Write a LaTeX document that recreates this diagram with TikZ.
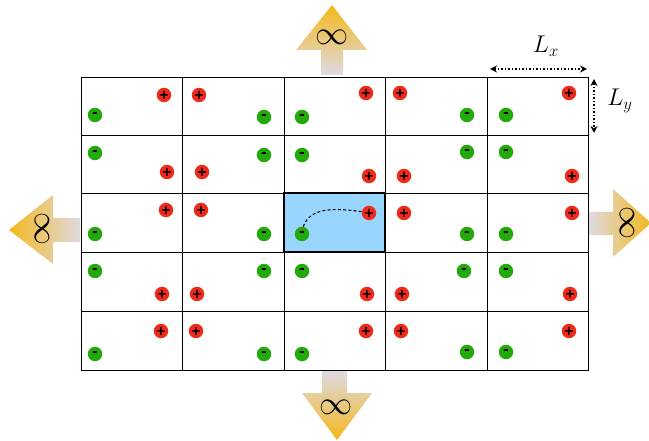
\documentclass[tikz,border=0pt]{standalone}
\usepackage{fontspec}
\newfontfamily\signfont{DejaVu Sans}
\usetikzlibrary{arrows.meta}
\definecolor{chred}{HTML}{EE2A1A}
\definecolor{chgreen}{HTML}{22AA0A}
\definecolor{cellblue}{HTML}{99D6FF}
\definecolor{gold}{HTML}{F4B81C}
\definecolor{pale}{HTML}{DEDAE2}
\begin{document}
\begin{tikzpicture}[x=1pt,y=-1pt,
  cell/.style={draw=black,line width=0.9pt},
  chplus/.style={circle,fill=chred,inner sep=0pt,minimum size=14.5pt,font=\signfont\bfseries\fontsize{13}{13}\selectfont},
  chminus/.style={circle,fill=chgreen,inner sep=0pt,minimum size=14.5pt,font=\signfont\bfseries\fontsize{14}{14}\selectfont},
  inf/.style={inner sep=0pt,font=\huge,scale=1.6},
  dimline/.style={line width=1.2pt,dash pattern=on 1.2pt off 2.3pt,{Stealth[length=7pt,width=7pt]}-{Stealth[length=7pt,width=7pt]}},
  lab/.style={inner sep=0pt,font=\LARGE,scale=1.4}]
\useasboundingbox (0,0) rectangle (649,441);
% grid
\foreach \x/\xx in {81/182,182/284,284/385,385/487,487/588}
  \foreach \y/\yy in {77/135,135/193,193/252,252/311,311/370}
    \draw[cell] (\x,\y) rectangle (\xx,\yy);
\draw[line width=2.4pt,fill=cellblue] (284,193) rectangle (385,252);
% charges
\foreach \n/\px/\py/\mx/\my in {
  a/164/95/95/115, b/199/95/264/117, c/366/93/302/117, d/400/93/467/115, e/569/93/506/115,
  f/167/172/95/153, g/202/172/264/155, h/369/176/302/155, i/404/176/467/152, j/572/176/506/152,
  k/166/210/95/234, l/201/210/264/234, m/369/213/302/234, n/404/213/467/234, o/572/213/506/234,
  p/162/294/95/271, q/197/294/264/271, r/367/294/302/271, s/402/294/464/271, t/570/294/506/271,
  u/161/331/95/354, v/196/331/264/354, w/366/331/302/354, x/401/331/467/352, y/569/331/506/352}
{
  \node[chplus] (p\n) at (\px,\py) {+};
  \node[chminus] (m\n) at (\mx,\my) {-};
}
\draw[dashed,line width=1.1pt,dash pattern=on 3pt off 2.2pt] (mm.80) .. controls (310,207) and (335,208) .. (pm.170);
% arrows
\shade[bottom color=pale,top color=gold] (321,75) -- (321,50) -- (296,50) -- (332,5) -- (367,50) -- (343,50) -- (343,75) -- cycle;
\node[inf] (infT) at (332,37) {$\infty$};
\shade[top color=pale,bottom color=gold] (322,371) -- (322,393) -- (302,393) -- (337,440) -- (372,393) -- (347,393) -- (347,371) -- cycle;
\node[inf] (infB) at (336,407) {$\infty$};
\shade[right color=pale,left color=gold] (80,218) -- (53,218) -- (53,195) -- (9,230) -- (53,264) -- (53,242) -- (80,242) -- cycle;
\node[inf,rotate=90] (infL) at (42,229) {$\infty$};
\shade[left color=pale,right color=gold] (589,212) -- (613,212) -- (613,189) -- (651,223) -- (613,257) -- (613,235) -- (589,235) -- cycle;
\node[inf,rotate=90] (infR) at (627,223) {$\infty$};
% dimensions
\coordinate (lx1) at (490,69);
\coordinate (lx2) at (587,69);
\draw[dimline] (lx1) -- (lx2);
\node[lab] (Lx) at (546,46) {$L_x$};
\coordinate (ly1) at (594,79);
\coordinate (ly2) at (594,133);
\draw[dimline] (ly1) -- (ly2);
\node[lab] (Ly) at (620,101) {$L_y$};
\end{tikzpicture}
\end{document}
